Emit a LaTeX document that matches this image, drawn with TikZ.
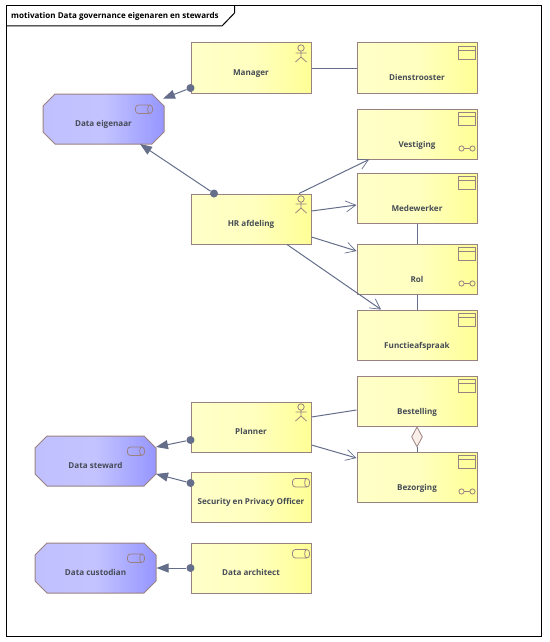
\documentclass[tikz,border=0pt]{standalone}
\usepackage{fontspec}
\setmainfont{Open Sans}
\usetikzlibrary{arrows.meta,positioning,shapes.misc,shapes.geometric}
\definecolor{ElemBorder}{RGB}{155,130,130}
\definecolor{LinkBlue}{RGB}{100,110,138}
\definecolor{TextGray}{RGB}{70,76,86}
\definecolor{YellowLight}{RGB}{255,255,200}
\definecolor{YellowDeep}{RGB}{255,255,150}
\definecolor{BlueLight}{RGB}{192,192,255}
\definecolor{BlueDeep}{RGB}{150,150,255}
\definecolor{DiamondPink}{RGB}{250,238,232}
\tikzset{
  elem/.style={draw=ElemBorder,line width=1pt,minimum width=120pt,minimum height=50pt,inner sep=0pt,
    left color=YellowLight,right color=YellowDeep,middle color=YellowLight!85!YellowDeep,
    text=TextGray,font=\bfseries\fontsize{8.1}{10}\selectfont,text height=16pt,text depth=2pt},
  obj/.style={elem,text height=28pt},
  goal/.style={elem,shape=chamfered rectangle,chamfered rectangle xsep=6pt,chamfered rectangle ysep=6pt,
    minimum width=121pt,left color=BlueLight,right color=BlueDeep,middle color=BlueLight!95!white},
  ball/.style={circle,fill=LinkBlue,inner sep=0pt,minimum size=8pt},
  plain/.style={draw=LinkBlue,line width=1pt},
  assign/.style={plain,-{Triangle[length=12pt,width=9pt]}},
  flow/.style={plain,-{Straight Barb[length=10pt,width=11pt,line width=0.7pt]}},
  icon/.style={draw=ElemBorder,line width=0.8pt},
  actoricon/.pic={
    \draw[icon] (-10.5,5.5) circle (3.2);
    \draw[icon] (-10.5,8.7)--(-10.5,14.5) (-16,10.5)--(-5,10.5) (-16,19.5)--(-10.5,14.5)--(-5,19.5);
  },
  windowicon/.pic={
    \draw[icon] (-19,4) rectangle (-2,17) (-19,8)--(-2,8);
  },
  chainicon/.pic={
    \draw[icon] (-16,-11) circle (2.6) (-5,-11) circle (2.6) (-13.4,-11)--(-7.6,-11);
  },
  drumicon/.pic={
    \draw[icon,rounded corners=3pt] (0,0) rectangle (17,8.5);
    \draw[icon] (14,8.5) arc[start angle=90,end angle=270,x radius=1.8,y radius=4.25];
  },
}
\begin{document}
\begin{tikzpicture}[x=1pt,y=-1pt,>=Latex]
  \useasboundingbox (0,0) rectangle (549,642);
  \node[draw=black,line width=1pt,minimum width=535pt,minimum height=630pt,inner sep=0pt] (frame) at (273.5,321) {};
  \draw[black,line width=1pt] (6,26)--(222,26)--(234.5,13)--(234.5,6);
  \node[anchor=west,inner sep=0pt,font=\bfseries\fontsize{8.05}{10}\selectfont] (title) at (11,16.5) {motivation Data governance eigenaren en stewards};

  \node[elem] (mgr) at (251,68) {Manager};
  \node[elem] (hr) at (251,219) {HR afdeling};
  \node[elem] (planner) at (251,427) {Planner};
  \node[elem] (security) at (251,497) {Security en Privacy Officer};
  \node[elem] (architect) at (251,568) {Data architect};
  \node[obj] (rooster) at (417,68) {Dienstrooster};
  \node[obj] (vestiging) at (417,134) {Vestiging};
  \node[obj] (medewerker) at (417,198) {Medewerker};
  \node[obj] (rol) at (417,269) {Rol};
  \node[obj] (afspraak) at (417,335) {Functieafspraak};
  \node[obj] (bestelling) at (417,401) {Bestelling};
  \node[obj] (bezorging) at (417,477) {Bezorging};
  \node[goal] (eigenaar) at (103.5,119) {Data eigenaar};
  \node[goal] (steward) at (95.5,461) {Data steward};
  \node[goal] (custodian) at (95.5,568) {Data custodian};

  \foreach \n in {mgr,hr,planner}
    \pic at (\n.north east) {actoricon};
  \foreach \n in {rooster,vestiging,medewerker,rol,afspraak,bestelling,bezorging}
    \pic at (\n.north east) {windowicon};
  \foreach \n in {vestiging,rol,bezorging}
    \pic at (\n.south east) {chainicon};
  \pic at ([shift={(-19,7)}]security.north east) {drumicon};
  \pic at ([shift={(-19,7)}]architect.north east) {drumicon};
  \foreach \n in {eigenaar,steward,custodian}
    \pic at ([shift={(-29,-14)}]\n.east) {drumicon};

  \node[ball] (mgrball) at ([yshift=-20pt]mgr.west) {};
  \node[ball] (hrball) at ([xshift=-37pt]hr.north) {};
  \node[ball] (plannerball) at ([yshift=-13pt]planner.west) {};
  \node[ball] (securityball) at ([yshift=14pt]security.west) {};
  \node[ball] (architectball) at (architect.west) {};
  \draw[assign] (mgrball) -- ([shift={(59.5,-20.3)}]eigenaar.center);
  \draw[assign] (hrball) -- ([shift={(36.5,25)}]eigenaar.center);
  \draw[assign] (plannerball) -- ([shift={(60.5,-14)}]steward.center);
  \draw[assign] (securityball) -- ([shift={(60.5,13)}]steward.center);
  \draw[assign] (architectball) -- (custodian.east);

  \draw[plain] (mgr.east) -- (rooster.west);
  \draw[flow] ([xshift=48pt]hr.north) -- ([xshift=-48pt]vestiging.south);
  \draw[flow] ([yshift=8pt]hr.east) -- ([yshift=-7pt]medewerker.west);
  \draw[flow] ([yshift=-18pt]hr.east) -- ([yshift=18pt]rol.west);
  \draw[flow] ([xshift=36pt]hr.south) -- ([xshift=-36pt]afspraak.north);
  \draw[plain] (medewerker) -- (rol);
  \draw[plain] (rol) -- (afspraak);
  \draw[plain] ([yshift=10pt]planner.east) -- ([yshift=-9pt]bestelling.west);
  \draw[flow] ([yshift=-18pt]planner.east) -- ([yshift=19pt]bezorging.west);
  \node[draw=ElemBorder,fill=DiamondPink,line width=0.8pt,shape=diamond,shape aspect=0.5,inner sep=0pt,minimum width=11pt,minimum height=20pt,anchor=north] (dia) at (bestelling.south) {};
  \draw[plain] (dia.south) -- (bezorging.north);
\end{tikzpicture}
\end{document}
